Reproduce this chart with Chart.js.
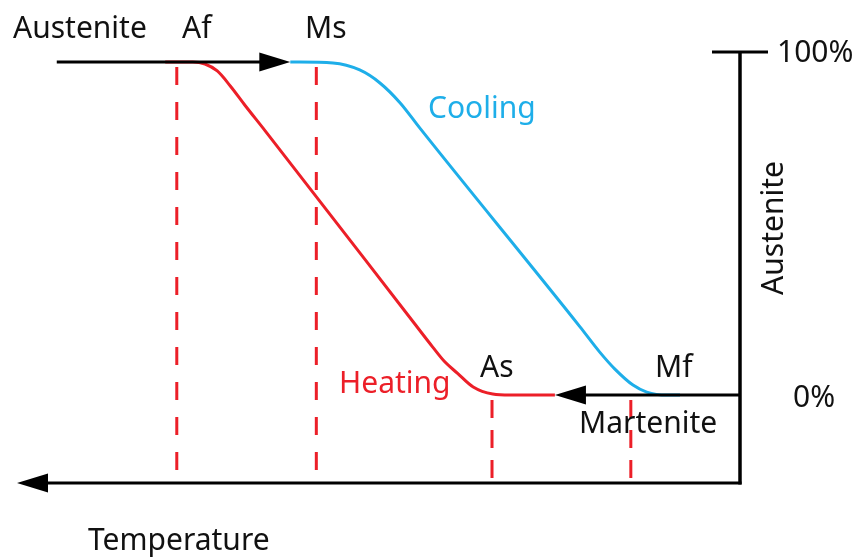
<!DOCTYPE html>
<html><head><meta charset="utf-8">
<script src="https://cdn.jsdelivr.net/npm/chart.js@4.4.1/dist/chart.umd.min.js"></script>
<style>html,body{margin:0;padding:0;background:#fff;} canvas{display:block;}</style>
</head><body>
<canvas id="c" width="860" height="557"></canvas>
<script>
// ---- data (temperature in arbitrary units, increasing to the left; austenite fraction in %) ----
const heatingT = [79.5, 75.7, 74.0, 72.3, 70.5, 68.5, 65.7, 45.0, 42.5, 40.8, 39.1, 36.9, 34.2, 31.8, 25.6];
const heatingV = [100, 100, 99.4, 97.3, 92.8, 87.1, 79.4, 21.4, 14.4, 9.9, 6.6, 2.4, 0.3, 0, 0];
const coolingT = [62.2, 56.3, 52.6, 49.8, 47.0, 44.3, 22.1, 19.4, 17.3, 14.8, 12.9, 10.1, 8.3];
const coolingV = [100, 99.7, 97.6, 93.7, 87.7, 80.2, 20.4, 12.9, 7.8, 3.0, 0.9, 0, 0];
const transitionNames = ['Af', 'Ms', 'As', 'Mf'];
const transitionT = [77.9, 58.6, 34.3, 15.1];
const transitionTop = [98.5, 98.5, -1.5, -1.5];
const transitionBottom = [-22.5, -22.5, -26.1, -26.1];
const austeniteArrowT = [94.5, 62.2];   // top arrow, at 100%
const martensiteArrowT = [0, 25.6];     // bottom arrow, at 0%
const yTickLabels = ['100%', '0%'];
const yTickValues = [103, 0];
const tempRange = [0, 100];
const fracRange = [-26.4, 103];

const RED = '#ec1f28';
const BLUE = '#1eaee9';
const FONT = '30px "Noto Sans", sans-serif';

const toPts = (xs, ys) => xs.map((x, i) => ({x: x, y: ys[i]}));

const datasets = [
  {label: 'Heating', data: toPts(heatingT, heatingV), borderColor: RED, borderWidth: 3,
   pointRadius: 0, showLine: true, cubicInterpolationMode: 'monotone', order: 1},
  {label: 'Cooling', data: toPts(coolingT, coolingV), borderColor: BLUE, borderWidth: 3,
   pointRadius: 0, showLine: true, cubicInterpolationMode: 'monotone', order: 1}
];
transitionNames.forEach((n, i) => {
  datasets.push({label: n, data: [{x: transitionT[i], y: transitionTop[i]}, {x: transitionT[i], y: transitionBottom[i]}],
    borderColor: RED, borderWidth: 3, pointRadius: 0, showLine: true,
    borderDash: i < 2 ? [18, 17] : [18, 12], order: 2});
});

function arrow(ctx, x1, y1, x2, y2, len, half) {
  const a = Math.atan2(y2 - y1, x2 - x1);
  const bx = x2 - Math.cos(a) * len, by = y2 - Math.sin(a) * len;
  ctx.beginPath(); ctx.moveTo(x1, y1); ctx.lineTo(bx + Math.cos(a) * 2, by + Math.sin(a) * 2); ctx.stroke();
  ctx.beginPath(); ctx.moveTo(x2, y2);
  ctx.lineTo(bx - Math.sin(a) * half, by + Math.cos(a) * half);
  ctx.lineTo(bx + Math.sin(a) * half, by - Math.cos(a) * half);
  ctx.closePath(); ctx.fill();
}

const overlay = {
  id: 'overlay',
  afterDatasetsDraw(chart) {
    const ctx = chart.ctx, xs = chart.scales.x, ys = chart.scales.y;
    const X = v => xs.getPixelForValue(v), Y = v => ys.getPixelForValue(v);
    ctx.save();
    ctx.strokeStyle = '#000'; ctx.fillStyle = '#000'; ctx.lineCap = 'butt';
    // vertical fraction axis
    ctx.lineWidth = 3.5;
    ctx.beginPath(); ctx.moveTo(X(tempRange[0]), Y(fracRange[1])); ctx.lineTo(X(tempRange[0]), Y(fracRange[0]) + 1.5); ctx.stroke();
    // top tick
    ctx.lineWidth = 3;
    ctx.beginPath(); ctx.moveTo(X(tempRange[0]) - 28, Y(yTickValues[0])); ctx.lineTo(X(tempRange[0]) + 28, Y(yTickValues[0])); ctx.stroke();
    // temperature axis with arrow
    ctx.lineWidth = 3;
    arrow(ctx, X(tempRange[0]) + 1.5, Y(fracRange[0]), X(tempRange[1]), Y(fracRange[0]), 31, 9.5);
    // process arrows
    arrow(ctx, X(austeniteArrowT[0]), Y(100), X(austeniteArrowT[1]), Y(100), 31, 9.5);
    arrow(ctx, X(martensiteArrowT[0]), Y(0), X(martensiteArrowT[1]), Y(0), 31, 9.5);
    // texts
    ctx.font = FONT; ctx.textBaseline = 'alphabetic'; ctx.textAlign = 'left';
    ctx.fillStyle = '#111';
    ctx.fillText('Austenite', 13, 38);
    ctx.fillText(transitionNames[0], 182, 38);
    ctx.fillText(transitionNames[1], 305, 38);
    ctx.fillText(transitionNames[2], 480, 377);
    ctx.fillText(transitionNames[3], 655, 377);
    ctx.fillText('Martenite', 579, 433);
    ctx.fillText(yTickLabels[0], 777, 62);
    ctx.fillText(yTickLabels[1], 793, 407);
    ctx.fillText('Temperature', 88, 550);
    ctx.fillStyle = BLUE; ctx.fillText('Cooling', 428, 118);
    ctx.fillStyle = RED; ctx.fillText('Heating', 339, 393);
    ctx.save();
    ctx.translate(783, 228); ctx.rotate(-Math.PI / 2);
    ctx.fillStyle = '#111'; ctx.textAlign = 'center';
    ctx.fillText('Austenite', 0, 0);
    ctx.restore();
    ctx.restore();
  }
};

new Chart(document.getElementById('c'), {
  type: 'scatter',
  data: {datasets: datasets},
  options: {
    responsive: false, animation: false, devicePixelRatio: 1,
    layout: {padding: {left: 17, right: 120, top: 52, bottom: 74}},
    plugins: {legend: {display: false}, tooltip: {enabled: false}},
    scales: {
      x: {type: 'linear', reverse: true, min: tempRange[0], max: tempRange[1], display: false},
      y: {type: 'linear', min: fracRange[0], max: fracRange[1], display: false}
    }
  },
  plugins: [overlay]
});
</script>
</body></html>
